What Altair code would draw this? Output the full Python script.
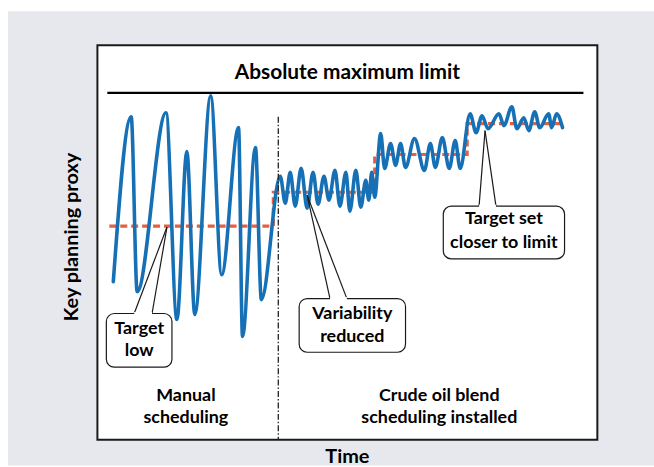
import altair as alt
import pandas as pd

# ---- data (time units 0-503, level units 0-397) ----
blue_t = [16, 34, 40, 69, 80, 90, 98, 114, 125, 142, 146, 159, 165,
          184, 189, 194, 199, 205, 211, 217, 222, 228, 233, 239, 244, 250, 254, 260, 265, 270, 273, 276, 279,
          285, 289, 295, 300, 305, 310, 319, 329, 335, 340, 347, 354, 360, 365,
          375, 381, 387, 393, 404, 409, 417, 422, 429, 434, 440, 445, 454, 457, 462, 468]
blue_v = [159, 325, 149, 329, 121, 290, 126, 346, 166, 314, 104, 294, 141,
          265, 238, 269, 235, 273, 233, 269, 237, 265, 241, 271, 235, 269, 230, 271, 234, 261, 241, 269, 244,
          308, 273, 298, 276, 298, 274, 303, 271, 298, 274, 304, 273, 301, 273,
          328, 309, 326, 313, 328, 316, 335, 313, 324, 311, 330, 314, 328, 314, 328, 314]

target_t = [12, 177, 177, 279, 279, 372, 372, 468]
target_v = [215, 215, 249, 249, 287, 287, 318, 318]

switch_t = 182
limit_v = 349

title_text = "Absolute maximum limit"
x_title = "Time"
y_title = "Key planning proxy"

# callouts: box, text lines, pointer
callouts = [
    dict(x1=9, x2=75, y1=127, y2=73, lines=["Target", "low"], ly=[111, 89],
         tip=(70, 214), b1=37, b2=55),
    dict(x1=203, x2=310, y1=142, y2=88, lines=["Variability", "reduced"], ly=[126, 103],
         tip=(211, 246), b1=234, b2=251),
    dict(x1=348, x2=470, y1=235, y2=182, lines=["Target set", "closer to limit"], ly=[222, 198],
         tip=(390, 311), b1=384, b2=401),
]
section_labels = [("Manual", 89, 44), ("scheduling", 89, 22),
                  ("Crude oil blend", 344, 44), ("scheduling installed", 344, 22)]

FONT = "Lato, Roboto, sans-serif"
BLUE = "#1670b6"
RED = "#e5603e"

xs = alt.Scale(domain=[0, 503])
ys = alt.Scale(domain=[0, 397])

def X(f="t"):
    return alt.X(f, type="quantitative", scale=xs, axis=None)

def Y(f="v"):
    return alt.Y(f, type="quantitative", scale=ys, axis=None)

base_df = pd.DataFrame({"a": [0]})

bg = alt.Chart(base_df).mark_rect(fill="#e7e8ed").encode(
    x=alt.value(-90), x2=alt.value(560), y=alt.value(-34), y2=alt.value(423))
box = alt.Chart(base_df).mark_rect(fill="white", stroke="#1a1a1a", strokeWidth=2).encode(
    x=alt.value(0), x2=alt.value(503), y=alt.value(0), y2=alt.value(397))

blue_df = pd.DataFrame({"t": blue_t, "v": blue_v, "i": range(len(blue_t))})
target_df = pd.DataFrame({"t": target_t, "v": target_v, "i": range(len(target_t))})

target = alt.Chart(target_df).mark_line(color=RED, strokeWidth=3.2, strokeDash=[7, 4]).encode(
    x=X(), y=Y(), order="i:Q")
blue = alt.Chart(blue_df).mark_line(color=BLUE, strokeWidth=3.6, interpolate="monotone",
                                    strokeCap="round", strokeJoin="round").encode(
    x=X(), y=Y(), order="i:Q")

switch = alt.Chart(pd.DataFrame({"t": [switch_t], "v": [325], "v2": [0]})).mark_rule(
    color="#222", strokeWidth=1.3, strokeDash=[6, 2, 1.5, 2]).encode(x=X(), y=Y(), y2="v2:Q")

limit = alt.Chart(pd.DataFrame({"t": [10], "t2": [489], "v": [limit_v]})).mark_rule(
    color="black", strokeWidth=2.4).encode(x=X(), x2="t2:Q", y=Y())

title = alt.Chart(pd.DataFrame({"t": [251.5], "v": [369], "s": [title_text]})).mark_text(
    font=FONT, fontSize=21, fontWeight="bold", color="black", align="center", baseline="middle").encode(
    x=X(), y=Y(), text="s:N")

box_rows, text_rows, ptr_rows, gap_rows = [], [], [], []
for c in callouts:
    box_rows.append(dict(t=c["x1"], t2=c["x2"], v=c["y1"], v2=c["y2"]))
    for s, yy in zip(c["lines"], c["ly"]):
        text_rows.append(dict(t=(c["x1"] + c["x2"]) / 2, v=yy, s=s))
    ptr_rows.append(dict(t=c["b1"], v=c["y1"], t2=c["tip"][0], v2=c["tip"][1]))
    ptr_rows.append(dict(t=c["b2"], v=c["y1"], t2=c["tip"][0], v2=c["tip"][1]))
    gap_rows.append(dict(t=c["b1"], t2=c["b2"], v=c["y1"]))

cbox = alt.Chart(pd.DataFrame(box_rows)).mark_rect(
    fill="white", stroke="#1a1a1a", strokeWidth=1.2, cornerRadius=8).encode(
    x=X(), x2="t2:Q", y=Y(), y2="v2:Q")
cgap = alt.Chart(pd.DataFrame(gap_rows)).mark_rule(color="white", strokeWidth=3).encode(
    x=X(), x2="t2:Q", y=Y())
cptr = alt.Chart(pd.DataFrame(ptr_rows)).mark_rule(color="#1a1a1a", strokeWidth=1.2).encode(
    x=X(), x2="t2:Q", y=Y(), y2="v2:Q")
ctext = alt.Chart(pd.DataFrame(text_rows)).mark_text(
    font=FONT, fontSize=18, fontWeight="bold", color="black", align="center", baseline="middle").encode(
    x=X(), y=Y(), text="s:N")

sec = alt.Chart(pd.DataFrame(section_labels, columns=["s", "t", "v"])).mark_text(
    font=FONT, fontSize=18, fontWeight="bold", color="black", align="center", baseline="middle").encode(
    x=X(), y=Y(), text="s:N")

xt = alt.Chart(pd.DataFrame({"t": [251.5], "v": [-17], "s": [x_title]})).mark_text(
    font=FONT, fontSize=20, fontWeight="bold", color="black", align="center", baseline="middle").encode(
    x=X(), y=Y(), text="s:N")
yt = alt.Chart(pd.DataFrame({"t": [-26], "v": [204], "s": [y_title]})).mark_text(
    font=FONT, fontSize=20, fontWeight="bold", color="black", align="center", baseline="middle",
    angle=270).encode(x=X(), y=Y(), text="s:N")

chart = alt.layer(bg, box, target, blue, switch, limit, title, cptr, cbox, cgap, ctext, sec, xt, yt).properties(
    width=503, height=397,
    padding={"left": 8, "top": 10, "right": 0, "bottom": 0},
    background="white",
).configure_view(stroke=None)

chart.save("out.html", embed_options={"renderer": "svg", "actions": False})
